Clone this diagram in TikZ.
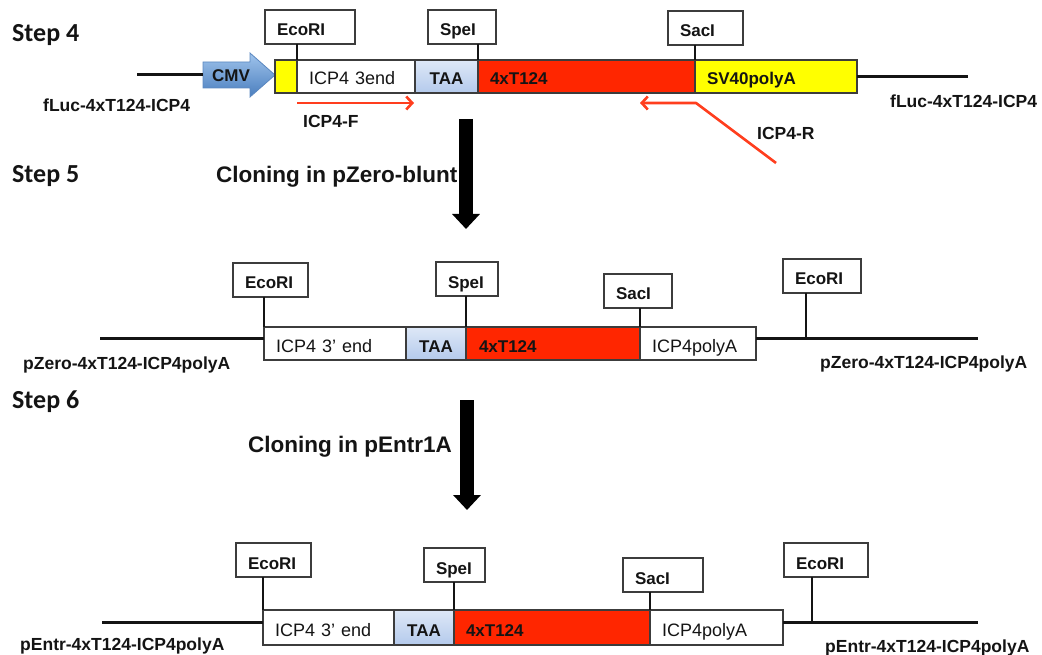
\documentclass[tikz,border=0pt]{standalone}
\usepackage{fontspec}
\setmainfont{Liberation Sans}
\newfontfamily\stepfont{Carlito}
\usetikzlibrary{arrows.meta,calc}

\definecolor{boxline}{RGB}{60,60,60}
\definecolor{dnared}{RGB}{255,38,0}
\definecolor{dnayellow}{RGB}{255,255,0}
\definecolor{taatop}{RGB}{222,232,247}
\definecolor{taabot}{RGB}{180,202,236}
\definecolor{cmvtop}{RGB}{160,196,236}
\definecolor{cmvbot}{RGB}{74,126,190}
\definecolor{cmvline}{RGB}{90,135,192}
\definecolor{primred}{RGB}{255,62,30}
\definecolor{ink}{RGB}{20,20,20}

\tikzset{
  % width of a box in pt; the text keeps a padding of 12pt on each side
  boxw/.code={\pgfmathsetmacro\boxtw{#1-24}%
    \edef\boxtmp{\noexpand\tikzset{minimum width=#1pt, text width=\boxtw pt}}\boxtmp},
  seg/.style={draw=boxline, line width=1.2pt, inner ysep=0pt, inner xsep=12pt,
    outer sep=0pt, anchor=north west, align=left, text=ink, minimum height=#1,
    text height=17pt, text depth=0pt},
  seg/.default=33pt,
  segbold/.style={font=\bfseries\fontsize{17}{20}\selectfont},
  segreg/.style={font=\fontsize{18}{21}\selectfont},
  site/.style={draw=boxline, fill=white, line width=1.2pt, inner ysep=0pt, inner xsep=12pt,
    outer sep=0pt, anchor=north west, align=left, minimum height=34pt, text=ink,
    text height=18pt, text depth=0pt,
    font=\bfseries\fontsize{17}{20}\selectfont},
  tick/.style={draw=ink, line width=2.6pt},
  backbone/.style={draw=ink, line width=3pt},
  lbl/.style={anchor=base west, inner sep=0pt, text=ink, font=\bfseries\fontsize{17.5}{20}\selectfont},
  steplbl/.style={anchor=base west, inner sep=0pt, text=ink, font=\stepfont\bfseries\fontsize{26}{30}\selectfont},
  cloning/.style={anchor=base west, inner sep=0pt, text=ink, font=\bfseries\fontsize{22.5}{26}\selectfont},
  bigarrow/.style={draw=black, line width=14pt, -{Triangle[width=27pt,length=15pt]}},
  primer/.style={draw=primred, line width=2.6pt, -{Straight Barb[length=6pt,width=13pt,line width=2.6pt]}},
}

\begin{document}
\begin{tikzpicture}[x=1pt,y=-1pt]
\useasboundingbox (0,0) rectangle (1042,655);

% ---------------- Step 4 ----------------
\node[steplbl] (s4) at (12,42) {Step 4};

% CMV promoter arrow
\path[draw=cmvline, line width=0.8pt, top color=cmvtop, bottom color=cmvbot]
  (203,62) -- (250,62) -- (250,53) -- (275,75) -- (250,97) -- (250,88) -- (203,88) -- cycle;
\coordinate (cmvtail) at (203,75);
\node[anchor=west, inner sep=0pt, text=ink, font=\bfseries\fontsize{17}{20}\selectfont] (cmv) at (212,76) {CMV};

\node[seg, fill=dnayellow, minimum width=22pt, inner xsep=0pt] (y4) at (275,60) {};
\node[seg, segreg, fill=white, boxw=118] (icp4) at (y4.north east) {ICP4 3end};
\node[seg, segbold, top color=taatop, bottom color=taabot, boxw=63, align=center] (taa4) at (icp4.north east) {TAA};
\node[seg, segbold, fill=dnared, boxw=217, inner xsep=6pt] (red4) at (taa4.north east) {4xT124};
\node[seg, segbold, fill=dnayellow, boxw=162] (sv4) at (red4.north east) {SV40polyA};

\coordinate (l4a) at (137,75);
\coordinate (l4b) at (968,76.5);
\draw[backbone] (l4a) -- (cmvtail);
\draw[backbone] (sv4.east) -- (l4b);

\node[site, boxw=90] (eco4) at (265,10) {EcoRI};
\node[site, boxw=68] (spe4) at (428,10) {SpeI};
\node[site, boxw=75] (sac4) at (668,11) {SacI};
\draw[tick] (eco4.south -| icp4.north west) -- (icp4.north west);
\draw[tick] (spe4.south -| red4.north west) -- (red4.north west);
\draw[tick] (sac4.south -| sv4.north west) -- (sv4.north west);

\node[lbl] (f4l) at (43,112) {fLuc-4xT124-ICP4};
\node[lbl] (f4r) at (890,108) {fLuc-4xT124-ICP4};

% primers
\coordinate (pf1) at (297,103);
\coordinate (pf2) at (414,103);
\draw[primer] (pf1) -- (pf2);
\node[lbl] (pfl) at (303,128) {ICP4-F};
\coordinate (pr1) at (776,163);
\coordinate (pr2) at (696,103);
\coordinate (pr3) at (640,103);
\draw[primer, line join=round] (pr1) -- (pr2) -- (pr3);
\node[lbl] (prl) at (757,140) {ICP4-R};

% ---------------- Step 5 ----------------
\node[steplbl] (s5) at (12,183) {Step 5};
\node[cloning] (c5) at (216,183) {Cloning in pZero-blunt};
\coordinate (a5a) at (466,119);
\coordinate (a5b) at (466,229);
\draw[bigarrow] (a5a) -- (a5b);

\node[seg, segreg, fill=white, boxw=142] (icp5) at (264,327) {ICP4 3' end};
\node[seg, segbold, top color=taatop, bottom color=taabot, boxw=60, align=center] (taa5) at (icp5.north east) {TAA};
\node[seg, segbold, fill=dnared, boxw=172, inner xsep=13pt] (red5) at (taa5.north east) {4xT124};
\node[seg, segreg, fill=white, boxw=116] (pa5) at (red5.north east) {ICP4polyA};

\coordinate (l5a) at (100,338);
\coordinate (l5b) at (978,338);
\draw[backbone] (l5a) -- (l5a -| icp5.west);
\draw[backbone] (l5b -| pa5.east) -- (l5b);

\node[site, boxw=75] (eco5a) at (233,263) {EcoRI};
\node[site, boxw=62] (spe5) at (436,262) {SpeI};
\node[site, boxw=68] (sac5) at (604,274) {SacI};
\node[site, boxw=78] (eco5b) at (783,259) {EcoRI};
\draw[tick] (eco5a.south -| icp5.north west) -- (icp5.north west);
\draw[tick] (spe5.south -| red5.north west) -- (red5.north west);
\draw[tick] (sac5.south -| pa5.north west) -- (pa5.north west);
\coordinate (e5b) at (806,338);
\draw[tick] (eco5b.south -| e5b) -- (e5b);

\node[lbl] (z5l) at (23,369) {pZero-4xT124-ICP4polyA};
\node[lbl] (z5r) at (820,368) {pZero-4xT124-ICP4polyA};

% ---------------- Step 6 ----------------
\node[steplbl] (s6) at (12,408) {Step 6};
\node[cloning] (c6) at (248,452) {Cloning in pEntr1A};
\coordinate (a6a) at (467,400);
\coordinate (a6b) at (467,510);
\draw[bigarrow] (a6a) -- (a6b);

\node[seg=35pt, segreg, fill=white, boxw=131] (icp6) at (263,610) {ICP4 3' end};
\node[seg=35pt, segbold, top color=taatop, bottom color=taabot, boxw=60, align=center] (taa6) at (icp6.north east) {TAA};
\node[seg=35pt, segbold, fill=dnared, boxw=196, inner xsep=11pt] (red6) at (taa6.north east) {4xT124};
\node[seg=35pt, segreg, fill=white, boxw=133] (pa6) at (red6.north east) {ICP4polyA};

\coordinate (l6a) at (102,622);
\coordinate (l6b) at (978,622);
\draw[backbone] (l6a) -- (l6a -| icp6.west);
\draw[backbone] (l6b -| pa6.east) -- (l6b);

\node[site, boxw=75] (eco6a) at (236,543) {EcoRI};
\node[site, boxw=61] (spe6) at (424,548) {SpeI};
\node[site, boxw=80] (sac6) at (623,558) {SacI};
\node[site, boxw=84] (eco6b) at (784,543) {EcoRI};
\draw[tick] (eco6a.south -| icp6.north west) -- (icp6.north west);
\draw[tick] (spe6.south -| red6.north west) -- (red6.north west);
\draw[tick] (sac6.south -| pa6.north west) -- (pa6.north west);
\coordinate (e6b) at (812,622);
\draw[tick] (eco6b.south -| e6b) -- (e6b);

\node[lbl] (n6l) at (20,650) {pEntr-4xT124-ICP4polyA};
\node[lbl] (n6r) at (825,652) {pEntr-4xT124-ICP4polyA};
\end{tikzpicture}
\end{document}
